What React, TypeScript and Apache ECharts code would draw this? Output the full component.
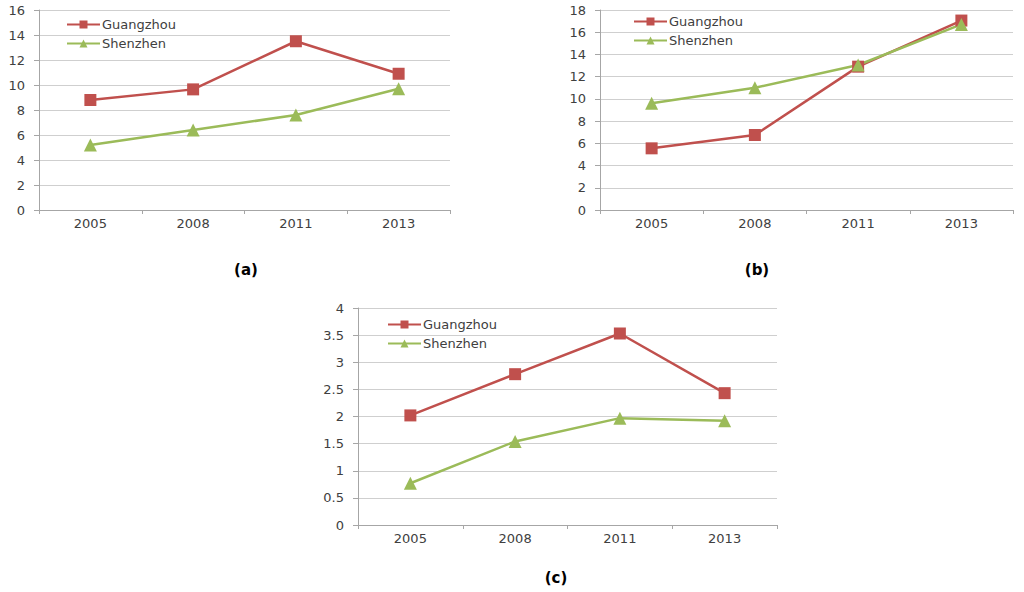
import React, { useEffect, useRef } from "react";
import * as echarts from "echarts";

const years = ["2005", "2008", "2011", "2013"];
const guangzhouA = [8.8, 9.65, 13.5, 10.9];
const shenzhenA = [5.2, 6.4, 7.6, 9.7];
const guangzhouB = [5.55, 6.75, 12.9, 17.05];
const shenzhenB = [9.6, 11.0, 13.05, 16.7];
const guangzhouC = [2.02, 2.78, 3.53, 2.43];
const shenzhenC = [0.77, 1.54, 1.97, 1.92];
const seriesNames = ["Guangzhou", "Shenzhen"];
const panelLabels = ["(a)", "(b)", "(c)"];

const RED = "#c0504d";
const GREEN = "#9bbb59";
const TEXT = "#404040";
const FONT = "DejaVu Sans";

export default function App() {
  const ref = useRef<HTMLDivElement>(null);
  useEffect(() => {
    if (!ref.current) return;
    const chart = echarts.init(ref.current, null, { renderer: "svg" });

    const grids = [
      { left: 39, top: 10, width: 411, height: 200 },
      { left: 600, top: 10, width: 413, height: 200 },
      { left: 358, top: 308, width: 419, height: 217 },
    ];
    const yScales = [
      { max: 16, interval: 2 },
      { max: 18, interval: 2 },
      { max: 4, interval: 0.5 },
    ];
    const data = [
      [guangzhouA, shenzhenA],
      [guangzhouB, shenzhenB],
      [guangzhouC, shenzhenC],
    ];
    const legendPos = [
      { left: 61, top: 13 },
      { left: 628, top: 10 },
      { left: 382, top: 313 },
    ];
    const labelPos = [
      { x: 246, y: 270 },
      { x: 757, y: 270 },
      { x: 556, y: 578 },
    ];

    const axisLineColor = "#a6a6a6";
    const gridColor = "#cfcfcf";

    const series: any[] = [];
    data.forEach((pair, i) => {
      series.push({
        name: seriesNames[0],
        type: "line",
        xAxisIndex: i,
        yAxisIndex: i,
        data: pair[0],
        symbol: "rect",
        symbolSize: 12,
        lineStyle: { color: RED, width: 2.5 },
        itemStyle: { color: RED },
      });
      series.push({
        name: seriesNames[1],
        type: "line",
        xAxisIndex: i,
        yAxisIndex: i,
        data: pair[1],
        symbol: "triangle",
        symbolSize: 13,
        lineStyle: { color: GREEN, width: 2.5 },
        itemStyle: { color: GREEN },
      });
    });

    chart.setOption({
      animation: false,
      backgroundColor: "#ffffff",
      grid: grids,
      xAxis: grids.map((_, i) => ({
        type: "category",
        gridIndex: i,
        data: years,
        boundaryGap: true,
        axisLine: { lineStyle: { color: axisLineColor, width: 1 } },
        axisTick: { show: true, length: 4, lineStyle: { color: axisLineColor } },
        axisLabel: { color: TEXT, fontFamily: FONT, fontSize: 13, margin: 7 },
        splitLine: { show: false },
      })),
      yAxis: grids.map((_, i) => ({
        type: "value",
        gridIndex: i,
        min: 0,
        max: yScales[i].max,
        interval: yScales[i].interval,
        axisLine: { show: true, lineStyle: { color: axisLineColor, width: 1 } },
        axisTick: { show: true, length: 5, lineStyle: { color: axisLineColor } },
        axisLabel: { color: TEXT, fontFamily: FONT, fontSize: 13, margin: 14 },
        splitLine: { show: true, lineStyle: { color: gridColor, width: 1 } },
      })),
      legend: legendPos.map((p) => ({
        left: p.left,
        top: p.top,
        orient: "vertical",
        data: seriesNames,
        itemWidth: 33,
        itemHeight: 10,
        itemGap: 6,
        selectedMode: false,
        textStyle: { color: TEXT, fontFamily: FONT, fontSize: 13, padding: [0, 0, 0, -3] },
      })),
      series,
      graphic: labelPos.map((p, i) => ({
        type: "text",
        x: p.x,
        y: p.y,
        style: {
          text: panelLabels[i],
          fill: "#000000",
          font: `bold 15px "${FONT}"`,
          textAlign: "center",
          textVerticalAlign: "middle",
        },
      })),
    });

    return () => chart.dispose();
  }, []);

  return (
    <div
      ref={ref}
      style={{ position: "fixed", left: 0, top: 0, width: 1024, height: 592, background: "#fff" }}
    />
  );
}
